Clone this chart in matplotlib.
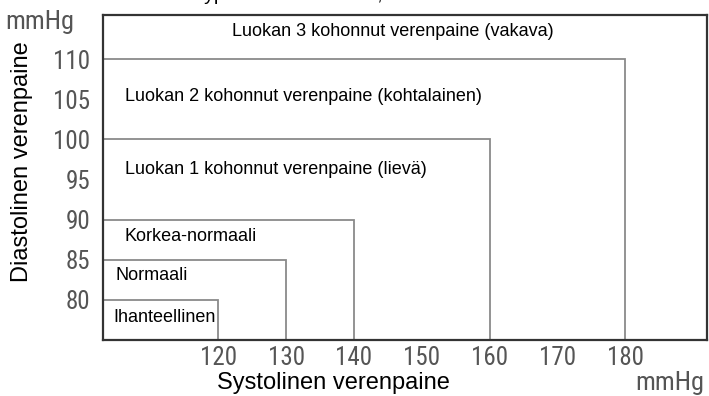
import matplotlib
matplotlib.use("Agg")
import matplotlib.pyplot as plt
from matplotlib import font_manager

# Verenpaineluokat: yläraja systolinen / diastolinen (mmHg)
sys_limits = [120, 130, 140, 160, 180]
dia_limits = [80, 85, 90, 100, 110]
class_names = [
    "Ihanteellinen",
    "Normaali",
    "Korkea-normaali",
    "Luokan 1 kohonnut verenpaine (lievä)",
    "Luokan 2 kohonnut verenpaine (kohtalainen)",
    "Luokan 3 kohonnut verenpaine (vakava)",
]
x_ticks = [120, 130, 140, 150, 160, 170, 180]
y_ticks = [80, 85, 90, 95, 100, 105, 110]

names = {f.name for f in font_manager.fontManager.ttflist}
narrow = "DejaVu Sans"
for cand in ["Liberation Sans Narrow", "DejaVu Sans Condensed", "Roboto Condensed",
             "Open Sans Condensed", "Noto Sans Condensed"]:
    if cand in names:
        narrow = cand
        break

plt.rcParams["font.family"] = ["Liberation Sans", "DejaVu Sans"]

fig = plt.figure(figsize=(7.09, 3.96), dpi=100)
ax = fig.add_axes([0.1453, 0.1414, 0.8517, 0.8206])
ax.set_xlim(103, 192)
ax.set_ylim(75, 115.5)

# jokainen luokka: vaakaviiva diastoliseen rajaan, pystyviiva systoliseen
x0, y0 = ax.get_xlim()[0], ax.get_ylim()[0]
for s, d in zip(sys_limits, dia_limits):
    ax.plot([x0, s, s], [d, d, y0], color="#8a8a8a", lw=1.3, solid_joinstyle="miter")

for sp in ax.spines.values():
    sp.set_color("#333333")
    sp.set_linewidth(1.6)

ax.set_xticks(x_ticks)
ax.set_yticks(y_ticks)
ax.tick_params(length=0, colors="#555555", labelsize=18)
ax.tick_params(axis="y", pad=9)
ax.tick_params(axis="x", pad=4)
for lab in ax.get_xticklabels() + ax.get_yticklabels():
    lab.set_family(narrow)
    lab.set_stretch("condensed")

# luokkien nimet
lab_kw = dict(fontsize=13, color="black", va="center")
ax.text(104.5, 77.8, class_names[0], **lab_kw)
ax.text(104.8, 83.0, class_names[1], **lab_kw)
ax.text(106.2, 87.9, class_names[2], **lab_kw)
ax.text(106.2, 96.3, class_names[3], **lab_kw)
ax.text(106.2, 105.4, class_names[4], **lab_kw)
ax.text(0.48, 0.95, class_names[5], transform=ax.transAxes, ha="center",
        va="center", fontsize=13)

ax.set_xlabel("Systolinen verenpaine", fontsize=17)
ax.set_ylabel("Diastolinen verenpaine", fontsize=17, va="center")
ax.xaxis.set_label_coords(0.382, -0.098)
ax.yaxis.set_label_coords(-0.134, 0.55)

unit_kw = dict(family=narrow, stretch="condensed", fontsize=19, color="#555555")
fig.text(0.007, 0.944, "mmHg", ha="left", va="center", **unit_kw)
fig.text(0.994, 0.032, "mmHg", ha="right", va="center", **unit_kw)

fig.text(0.268, 1.0, "Hypertension luokitus, aikuiset", ha="left",
         va="baseline", fontsize=14)

fig.savefig("out.png", dpi=100)
